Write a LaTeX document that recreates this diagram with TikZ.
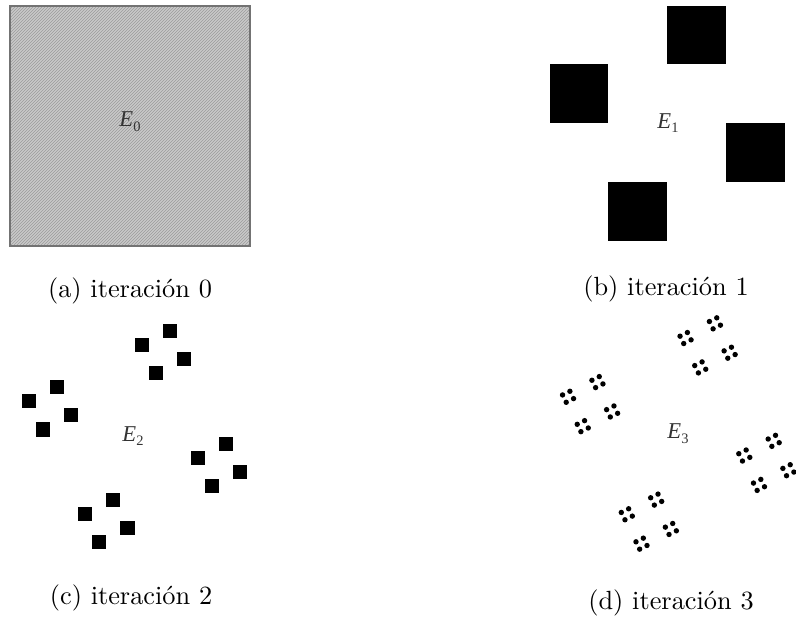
\documentclass[tikz,border=0pt]{standalone}
\usepackage{fontspec}
\newfontfamily\tms{Liberation Serif}
\begin{document}
\begin{tikzpicture}[x=0.38pt,y=-0.38pt,
  elabel/.style={font=\tms\fontsize{8.6}{10}\selectfont, text=black!80, inner sep=0},
  captxt/.style={font=\fontsize{10}{12}\selectfont, anchor=base, inner sep=0}]
\useasboundingbox (0,0) rectangle (796,619);
\def\pat{2/0,0/1,3/2,1/3}
% ---------- panel (a)
\begin{scope}
  \clip (10,6) rectangle (250,246);
  \fill[gray!18] (10,6) rectangle (250,246);
  \foreach \i in {0,...,160}
    \draw[gray!72, line width=0.42pt] ({10+3*\i-240},246) -- ++(240,-240);
\end{scope}
\draw[black!55, line width=0.4pt] (10,6) rectangle (250,246);
\node[elabel] (e0) at (130,122) {\textit{E}\raisebox{-1.8pt}{\fontsize{5.5}{6}\selectfont 0}};
% ---------- panel (b)
\foreach \a/\b in \pat
  \fill ({549.7+\a*58.75},{5.7+\b*58.75}) rectangle ++(58.75,58.75);
\node[elabel] (e1) at (668,123) {\textit{E}\raisebox{-1.8pt}{\fontsize{5.5}{6}\selectfont 1}};
% ---------- panel (c)
\foreach \a/\b in \pat {
  \foreach \c/\d in \pat {
    \fill ({22+\a*56.25+\c*14.0625},{324+\b*56.25+\d*14.0625}) rectangle ++(14.0625,14.0625);
  }
}
\node[elabel] (e2) at (133,436) {\textit{E}\raisebox{-1.8pt}{\fontsize{5.5}{6}\selectfont 2}};
% ---------- panel (d)
\foreach \a/\b in \pat {
  \foreach \c/\d in \pat {
    \foreach \e/\f in \pat {
      \fill ({560.7+\a*58.75+\c*14.6875+(\e+0.5)*3.671875},{316+\b*58.75+\d*14.6875+(\f+0.5)*3.671875}) circle (2.7);
    }
  }
}
\node[elabel] (e3) at (678,434) {\textit{E}\raisebox{-1.8pt}{\fontsize{5.5}{6}\selectfont 3}};
% ---------- captions
\node[captxt] (ca) at (130,298) {(a) iteración 0};
\node[captxt] (cb) at (666,296) {(b) iteración 1};
\node[captxt] (cc) at (131,604) {(c) iteración 2};
\node[captxt] (cd) at (671,609) {(d) iteración 3};
\end{tikzpicture}
\end{document}
